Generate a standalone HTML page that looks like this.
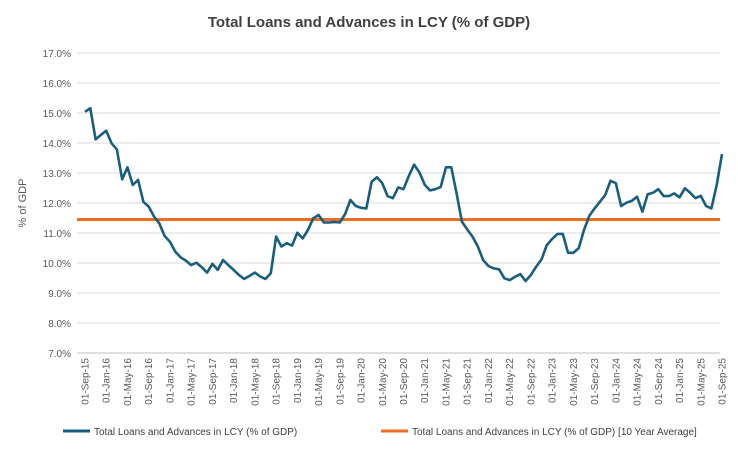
<!DOCTYPE html>
<html><head><meta charset="utf-8"><style>
body{margin:0;background:#fff;width:738px;height:470px;overflow:hidden;font-family:"Liberation Sans",Arial,sans-serif}
</style></head><body>
<svg id="chart" width="738" height="470" xmlns="http://www.w3.org/2000/svg" font-family="Liberation Sans, Arial, sans-serif">
<rect width="738" height="470" fill="#fff"/>
<text x="369" y="27" text-anchor="middle" font-size="15" font-weight="bold" fill="#404040">Total Loans and Advances in LCY (% of GDP)</text>
<text transform="translate(26,203) rotate(-90)" text-anchor="middle" font-size="11" fill="#595959">% of GDP</text>
<g id="grid"></g><g id="yticks"></g><g id="xticks"></g><g id="series"></g>
<g>
<line x1="63" y1="431" x2="90" y2="431" stroke="#1a5e7f" stroke-width="3"/>
<text x="94" y="435" font-size="10" fill="#404040">Total Loans and Advances in LCY (% of GDP)</text>
<line x1="381" y1="431" x2="408" y2="431" stroke="#ed6d23" stroke-width="3"/>
<text x="412" y="435" font-size="10" fill="#404040">Total Loans and Advances in LCY (% of GDP) [10 Year Average]</text>
</g>
</svg>
<script>
const values=[15.04,15.16,14.12,14.27,14.41,13.99,13.79,12.79,13.19,12.6,12.77,12.04,11.88,11.55,11.32,10.9,10.71,10.38,10.19,10.08,9.93,10.01,9.86,9.68,9.97,9.77,10.1,9.93,9.77,9.6,9.47,9.57,9.68,9.55,9.47,9.66,10.88,10.55,10.66,10.58,11.01,10.82,11.1,11.49,11.6,11.35,11.35,11.37,11.35,11.63,12.1,11.9,11.84,11.82,12.71,12.86,12.66,12.23,12.16,12.52,12.46,12.9,13.28,13.02,12.61,12.42,12.46,12.53,13.19,13.19,12.32,11.38,11.12,10.88,10.55,10.1,9.9,9.82,9.79,9.49,9.43,9.54,9.63,9.4,9.6,9.88,10.12,10.6,10.8,10.97,10.97,10.34,10.34,10.49,11.1,11.57,11.82,12.04,12.27,12.74,12.66,11.9,12.01,12.07,12.21,11.71,12.29,12.34,12.46,12.23,12.23,12.32,12.19,12.49,12.34,12.16,12.24,11.9,11.82,12.6,13.63];
const average=[11.45];
const yTicks=[7,8,9,10,11,12,13,14,15,16,17];
const monthNames=["Jan","Feb","Mar","Apr","May","Jun","Jul","Aug","Sep","Oct","Nov","Dec"];
const startMonth=8, startYear=2015;
const NS="http://www.w3.org/2000/svg";
const X0=85,X1=722,Y0=353,YPER=30;
function xs(i){return X0+(X1-X0)*i/(values.length-1);}
function ys(v){return Y0-(v-7)*YPER;}
function mk(tag,attrs,parent){const e=document.createElementNS(NS,tag);for(const k in attrs)e.setAttribute(k,attrs[k]);parent.appendChild(e);return e;}
const grid=document.getElementById('grid'),yt=document.getElementById('yticks'),xt=document.getElementById('xticks'),ser=document.getElementById('series');
yTicks.forEach(t=>{
 const l=mk('line',{x1:77,x2:720,y1:ys(t),y2:ys(t),stroke:t===7?'#bfbfbf':'#d9d9d9','stroke-width':1},grid);
 
 
 const tx=mk('text',{x:71,y:ys(t)+4,'text-anchor':'end','font-size':10,fill:'#595959'},yt);
 tx.textContent=t.toFixed(1)+'%';
 
 
});
for(let i=0;i<values.length;i+=4){
 const m=(startMonth+i)%12, y=startYear+Math.floor((startMonth+i)/12);
 const x=xs(i);
 const tx=mk('text',{transform:`translate(${x+3.5},${358}) rotate(-90)`,'text-anchor':'end','font-size':10,fill:'#595959'},xt);
 tx.textContent='01-'+monthNames[m]+'-'+String(y%100).padStart(2,'0');
 
 
}
const avg=mk('line',{x1:77,x2:720,y1:ys(average[0]),y2:ys(average[0]),stroke:'#ed6d23','stroke-width':3},ser);


const p=mk('polyline',{points:values.map((v,i)=>xs(i)+','+ys(v)).join(' '),fill:'none',stroke:'#1a5e7f','stroke-width':2.6,'stroke-linejoin':'round'},ser);


</script>
</body></html>
